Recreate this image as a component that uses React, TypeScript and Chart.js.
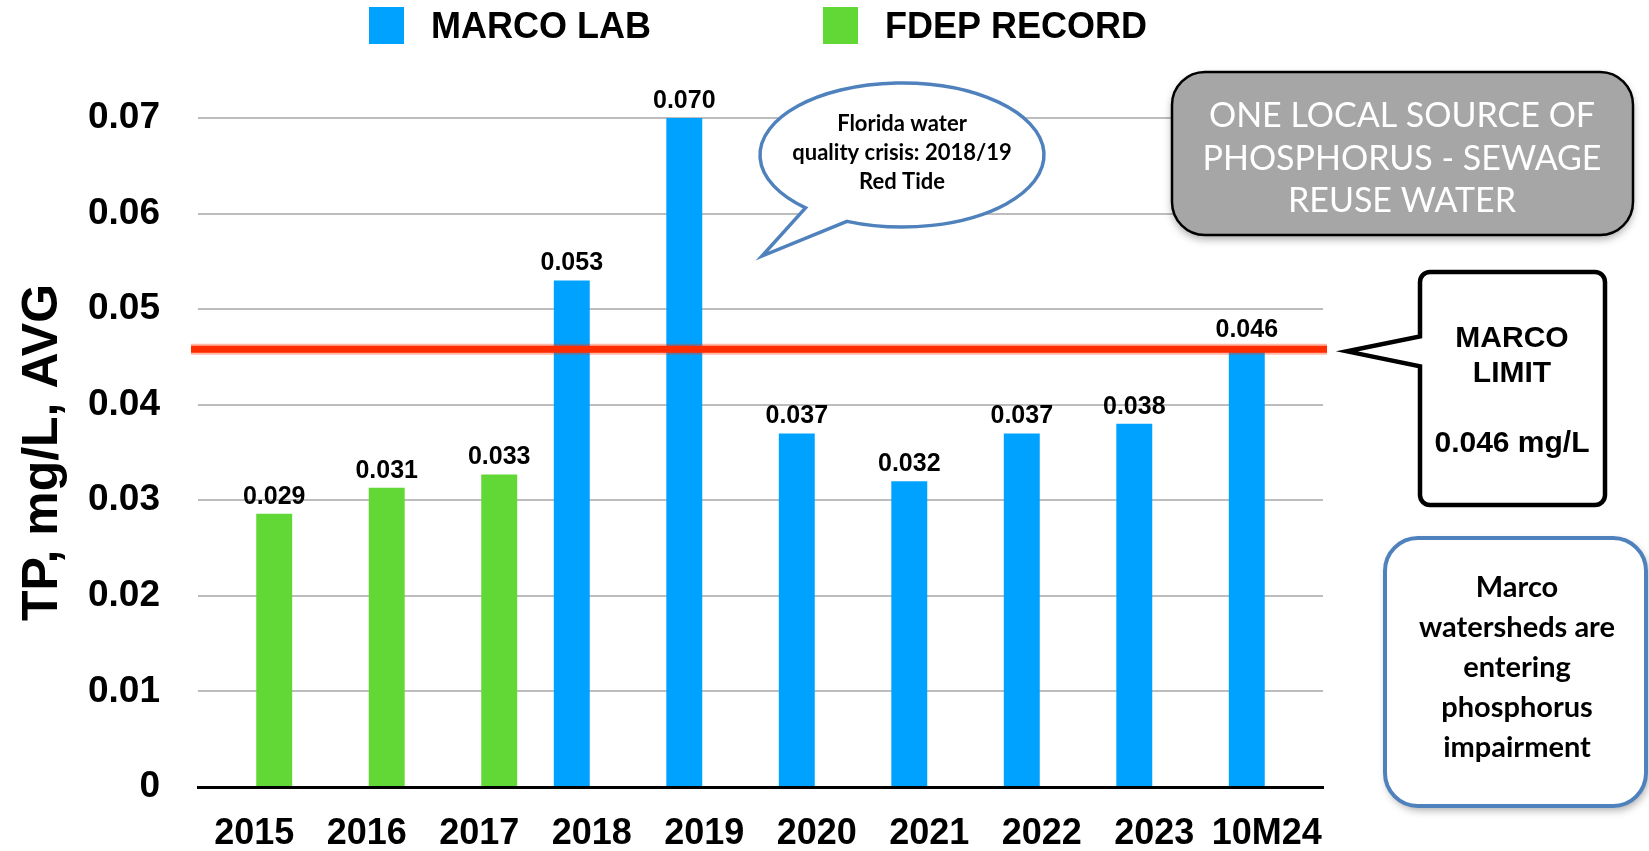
import React, { useEffect, useRef } from 'react';
import { Chart, registerables } from 'chart.js';

Chart.register(...registerables);

// ---------- data ----------
const categories = ['2015', '2016', '2017', '2018', '2019', '2020', '2021', '2022', '2023', '10M24'];
const marcoLab = [null, null, null, 0.053, 0.070, 0.037, 0.032, 0.037, 0.038, 0.046];
const fdepRecord = [0.0286, 0.0313, 0.0327, null, null, null, null, null, null, null];
const yTicks = [0, 0.01, 0.02, 0.03, 0.04, 0.05, 0.06, 0.07];
const LIMIT = 0.046;
const seriesNames = ['MARCO LAB', 'FDEP RECORD'];
const seriesColors = ['#00A2FF', '#61D836'];
const axisTitle = 'TP, mg/L, AVG';
const bubbleLines = ['Florida water', 'quality crisis: 2018/19', 'Red Tide'];
const sourceLines = ['ONE LOCAL SOURCE OF', 'PHOSPHORUS - SEWAGE', 'REUSE WATER'];
const limitLines = ['MARCO', 'LIMIT', `${LIMIT.toFixed(3)} mg/L`];
const impairLines = ['Marco', 'watersheds are', 'entering', 'phosphorus', 'impairment'];

const FONT = '"Liberation Sans", Arial, Helvetica, sans-serif';
const SOFT = 'Lato, "Open Sans", sans-serif';

function roundRectPath(ctx: CanvasRenderingContext2D, x0: number, y0: number, x1: number, y1: number, r: number) {
  ctx.beginPath();
  ctx.moveTo(x0 + r, y0);
  ctx.lineTo(x1 - r, y0);
  ctx.arcTo(x1, y0, x1, y0 + r, r);
  ctx.lineTo(x1, y1 - r);
  ctx.arcTo(x1, y1, x1 - r, y1, r);
  ctx.lineTo(x0 + r, y1);
  ctx.arcTo(x0, y1, x0, y1 - r, r);
  ctx.lineTo(x0, y0 + r);
  ctx.arcTo(x0, y0, x0 + r, y0, r);
  ctx.closePath();
}

const overlayPlugin = {
  id: 'overlay',
  afterDatasetsDraw(chart: any) {
    const ctx: CanvasRenderingContext2D = chart.ctx;
    const { left, right } = chart.chartArea;
    const yl = chart.scales.y.getPixelForValue(LIMIT) + 2;
    ctx.save();
    // limit line
    ctx.lineCap = 'butt';
    ctx.strokeStyle = 'rgba(255,45,0,0.35)';
    ctx.lineWidth = 11;
    ctx.beginPath();
    ctx.moveTo(left - 7, yl);
    ctx.lineTo(right + 4, yl);
    ctx.stroke();
    ctx.strokeStyle = '#FF2D00';
    ctx.lineWidth = 7;
    ctx.beginPath();
    ctx.moveTo(left - 7, yl);
    ctx.lineTo(right + 4, yl);
    ctx.stroke();
    // value labels
    ctx.fillStyle = '#000';
    ctx.font = `bold 25px ${FONT}`;
    ctx.textAlign = 'center';
    ctx.textBaseline = 'alphabetic';
    chart.data.datasets.forEach((ds: any, i: number) => {
      const meta = chart.getDatasetMeta(i);
      meta.data.forEach((bar: any, j: number) => {
        const v = ds.data[j];
        if (v == null) return;
        ctx.fillText(v.toFixed(3), bar.x, bar.y - 10);
      });
    });
    ctx.restore();
  },
  afterDraw(chart: any) {
    const ctx: CanvasRenderingContext2D = chart.ctx;
    ctx.save();

    // legend
    const legendX = [369, 823];
    chart.data.datasets.forEach((ds: any, i: number) => {
      ctx.fillStyle = ds.backgroundColor;
      ctx.fillRect(legendX[i], 7, 35, 37);
      ctx.fillStyle = '#000';
      ctx.font = `bold 36px ${FONT}`;
      ctx.textAlign = 'left';
      ctx.textBaseline = 'alphabetic';
      ctx.fillText(ds.label, legendX[i] + 62, 38);
    });

    // speech bubble
    const cx = 902, cy = 155, rx = 142, ry = 72;
    const a1 = (132.8 * Math.PI) / 180;
    const a2 = (112.8 * Math.PI) / 180;
    ctx.beginPath();
    ctx.ellipse(cx, cy, rx, ry, 0, a1, a2, false);
    ctx.lineTo(762, 256);
    ctx.closePath();
    ctx.fillStyle = '#fff';
    ctx.fill();
    ctx.lineWidth = 3.5;
    ctx.lineJoin = 'miter';
    ctx.strokeStyle = '#4F81BD';
    ctx.stroke();
    ctx.fillStyle = '#000';
    ctx.font = `bold 22px ${SOFT}`;
    ctx.textAlign = 'center';
    ctx.textBaseline = 'alphabetic';
    bubbleLines.forEach((t, i) => ctx.fillText(t, cx, 131 + i * 29));

    // gray source box
    ctx.save();
    ctx.shadowColor = 'rgba(0,0,0,0.35)';
    ctx.shadowBlur = 8;
    ctx.shadowOffsetY = 4;
    roundRectPath(ctx, 1172, 72, 1633, 235, 33);
    ctx.fillStyle = '#A6A6A6';
    ctx.fill();
    ctx.restore();
    roundRectPath(ctx, 1172, 72, 1633, 235, 33);
    ctx.lineWidth = 2.5;
    ctx.strokeStyle = '#000';
    ctx.stroke();
    ctx.fillStyle = '#fff';
    ctx.font = `400 34px ${SOFT}`;
    sourceLines.forEach((t, i) => ctx.fillText(t, 1402, 127 + i * 42.5));

    // limit box with pointer
    const yl = chart.scales.y.getPixelForValue(LIMIT) + 4;
    const x0 = 1420, y0 = 272, x1 = 1605, y1 = 505, r = 10;
    ctx.beginPath();
    ctx.moveTo(x0 + r, y0);
    ctx.lineTo(x1 - r, y0);
    ctx.arcTo(x1, y0, x1, y0 + r, r);
    ctx.lineTo(x1, y1 - r);
    ctx.arcTo(x1, y1, x1 - r, y1, r);
    ctx.lineTo(x0 + r, y1);
    ctx.arcTo(x0, y1, x0, y1 - r, r);
    ctx.lineTo(x0, yl + 15);
    ctx.lineTo(1347, yl);
    ctx.lineTo(x0, yl - 15);
    ctx.lineTo(x0, y0 + r);
    ctx.arcTo(x0, y0, x0 + r, y0, r);
    ctx.closePath();
    ctx.fillStyle = '#fff';
    ctx.fill();
    ctx.lineWidth = 4.5;
    ctx.strokeStyle = '#000';
    ctx.stroke();
    ctx.fillStyle = '#000';
    ctx.font = `bold 30px ${FONT}`;
    ctx.fillText(limitLines[0], 1512, 347);
    ctx.fillText(limitLines[1], 1512, 382);
    ctx.fillText(limitLines[2], 1512, 452);

    // impairment box
    ctx.save();
    ctx.shadowColor = 'rgba(0,0,0,0.35)';
    ctx.shadowBlur = 8;
    ctx.shadowOffsetX = 2;
    ctx.shadowOffsetY = 4;
    roundRectPath(ctx, 1385, 538, 1646, 806, 33);
    ctx.fillStyle = '#fff';
    ctx.fill();
    ctx.restore();
    roundRectPath(ctx, 1385, 538, 1646, 806, 33);
    ctx.lineWidth = 4;
    ctx.strokeStyle = '#4F81BD';
    ctx.stroke();
    ctx.fillStyle = '#000';
    ctx.font = `bold 29px ${SOFT}`;
    impairLines.forEach((t, i) => ctx.fillText(t, 1517, 597 + i * 40));

    ctx.restore();
  },
};

export default function App() {
  const ref = useRef<HTMLCanvasElement | null>(null);

  useEffect(() => {
    if (!ref.current) return;
    const chart = new Chart(ref.current, {
      type: 'bar',
      data: {
        labels: categories,
        datasets: [
          {
            label: seriesNames[0],
            data: marcoLab,
            backgroundColor: seriesColors[0],
            categoryPercentage: 0.71,
            barPercentage: 0.9,
          },
          {
            label: seriesNames[1],
            data: fdepRecord,
            backgroundColor: seriesColors[1],
            categoryPercentage: 0.71,
            barPercentage: 0.9,
          },
        ],
      },
      options: {
        responsive: false,
        animation: false,
        layout: { padding: { top: 118, right: 326, left: 0, bottom: 0 } },
        plugins: {
          legend: { display: false },
          tooltip: { enabled: false },
        },
        scales: {
          x: {
            grid: { display: false, drawTicks: false },
            border: { display: true, color: '#000', width: 3 },
            ticks: {
              color: '#000',
              font: { family: FONT, size: 36, weight: 'bold' },
              padding: 25,
              maxRotation: 0,
              autoSkip: false,
            },
            afterFit: (s: any) => {
              s.height = 64;
            },
          },
          y: {
            min: 0,
            max: 0.07,
            afterBuildTicks: (s: any) => {
              s.ticks = yTicks.map((v) => ({ value: v }));
            },
            grid: { color: '#BDBDBD', lineWidth: 2, drawTicks: false },
            border: { display: false },
            ticks: {
              color: '#000',
              font: { family: FONT, size: 37, weight: 'bold' },
              padding: 38,
              callback: (v: any) => (v === 0 ? '0' : Number(v).toFixed(2)),
            },
            title: {
              display: true,
              text: axisTitle,
              color: '#000',
              font: { family: FONT, size: 50, weight: 'bold' },
              padding: { top: 13, bottom: 0 },
            },
            afterFit: (s: any) => {
              s.width = 198;
            },
          },
        },
      },
      plugins: [overlayPlugin],
    });
    return () => chart.destroy();
  }, []);

  return (
    <canvas
      ref={ref}
      width={1649}
      height={851}
      style={{ position: 'fixed', left: 0, top: 0, width: 1649, height: 851, background: '#fff' }}
    />
  );
}
